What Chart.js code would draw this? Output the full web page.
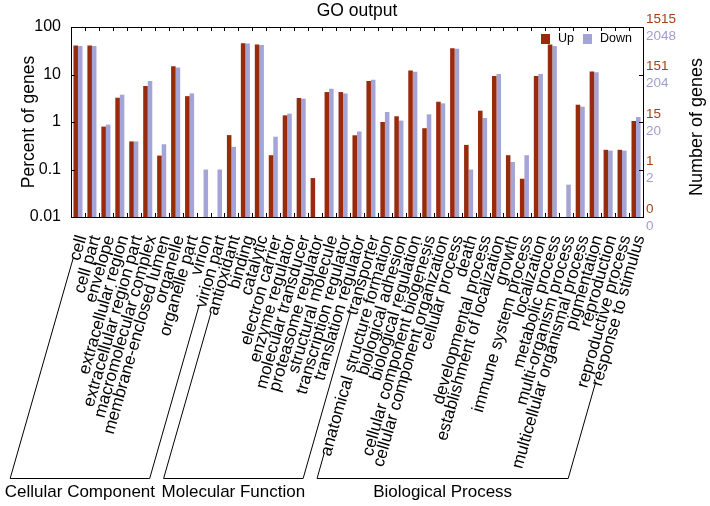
<!DOCTYPE html>
<html>
<head>
<meta charset="utf-8">
<script src="https://cdn.jsdelivr.net/npm/chart.js@4/dist/chart.umd.min.js"></script>
<style>
  html, body { margin: 0; padding: 0; background: #fff; }
  #wrap { width: 710px; height: 506px; }
</style>
</head>
<body>
<div id="wrap"><canvas id="goChart" width="710" height="506"></canvas></div>
<script>
const categories = [
    "cell", "cell part", "envelope", "extracellular region", "extracellular region part",
    "macromolecular complex", "membrane-enclosed lumen", "organelle", "organelle part",
    "virion", "virion part",
    "antioxidant", "binding", "catalytic", "electron carrier", "enzyme regulator",
    "molecular transducer", "proteasome regulator", "structural molecule",
    "transcription regulator", "translation regulator", "transporter",
    "anatomical structure formation", "biological adhesion", "biological regulation",
    "cellular component biogenesis", "cellular component organization", "cellular process",
    "death", "developmental process", "establishment of localization", "growth",
    "immune system process", "localization", "metabolic process", "multi-organism process",
    "multicellular organismal process", "pigmentation", "reproduction",
    "reproductive process", "response to stimulus"
];

// percent of genes (null = no genes)
const upPercent = [
    40.8, 40.8, 0.80, 3.24, 0.39, 5.7, 0.196, 15.0, 3.5, null, null,
    0.53, 45.7, 43, 0.2, 1.38, 3.2, 0.066, 4.27, 4.27, 0.525, 7.3,
    1.0, 1.32, 12.2, 0.74, 2.67, 35.9, 0.33, 1.73, 9.25, 0.2, 0.064, 9.25, 42.9, null,
    2.31, 11.6, 0.26, 0.26, 1.05
];
const downPercent = [
    40, 40, 0.88, 3.75, 0.39, 7.3, 0.34, 14, 4.0, 0.1, 0.1,
    0.3, 45, 42, 0.49, 1.5, 3.1, null, 5.0, 4.0, 0.63, 7.8,
    1.62, 1.07, 11.4, 1.45, 2.47, 35, 0.1, 1.21, 10.2, 0.144, 0.2, 10.2, 40, 0.048,
    2.1, 11.2, 0.25, 0.25, 1.27
];

const percentTicks = [100, 10, 1, 0.1, 0.01];
const upCountTicks = ["1515", "151", "15", "1", "0"];
const downCountTicks = ["2048", "204", "20", "2", "0"];

const groupNames = ["Cellular Component", "Molecular Function", "Biological Process"];
const groupFirst = [0, 11, 22];
const groupLast = [10, 21, 40];

const upColor = "#992b0d";
const downColor = "#a4a4d6";
const upText = "#a3401b";
const downText = "#9e9ed0";
const FONT = "'Liberation Sans', Arial, sans-serif";
const LABEL_ROT = 74;
const LABEL_SHIFT = 4;

function line(ctx, x1, y1, x2, y2) {
    ctx.beginPath();
    ctx.moveTo(x1, y1);
    ctx.lineTo(x2, y2);
    ctx.stroke();
}

const decorPlugin = {
    id: "decor",
    afterDraw(chart) {
        const { ctx, chartArea: a, scales: { x, y } } = chart;
        ctx.save();
        ctx.strokeStyle = "#000";
        ctx.lineWidth = 1;

        // frame with inward ticks
        ctx.strokeRect(Math.round(a.left) + 0.5, Math.round(a.top) + 0.5,
            Math.round(a.right - a.left), Math.round(a.bottom - a.top));
        for (let i = 1; i < categories.length; i++) {
            const px = Math.round((x.getPixelForTick(i - 1) + x.getPixelForTick(i)) / 2) + 0.5;
            line(ctx, px, a.top, px, a.top + 4);
            line(ctx, px, a.bottom, px, a.bottom - 4);
        }
        percentTicks.forEach(v => {
            const py = Math.round(y.getPixelForValue(v)) + 0.5;
            line(ctx, a.left, py, a.left + 4, py);
            line(ctx, a.right, py, a.right - 4, py);
        });

        // title
        ctx.fillStyle = "#000";
        ctx.font = "17.5px " + FONT;
        ctx.textAlign = "center";
        ctx.textBaseline = "middle";
        ctx.fillText("GO output", (a.left + a.right) / 2, 11);

        // right axis: gene counts
        ctx.font = "13.5px " + FONT;
        ctx.textAlign = "left";
        percentTicks.forEach((v, i) => {
            const py = y.getPixelForValue(v);
            ctx.fillStyle = upText;
            ctx.fillText(upCountTicks[i], a.right + 3, py - 8);
            ctx.fillStyle = downText;
            ctx.fillText(downCountTicks[i], a.right + 3, py + 9);
        });
        ctx.save();
        ctx.fillStyle = "#000";
        ctx.font = "18px " + FONT;
        ctx.textAlign = "center";
        ctx.translate(697, (a.top + a.bottom) / 2 + 5);
        ctx.rotate(-Math.PI / 2);
        ctx.fillText("Number of genes", 0, 0);
        ctx.restore();

        // legend
        const ds = chart.data.datasets;
        ctx.font = "12.5px " + FONT;
        ctx.textAlign = "left";
        let lx = a.right - 102;
        ds.forEach(d => {
            ctx.fillStyle = d.backgroundColor;
            ctx.fillRect(lx, a.top + 7, 9, 10);
            ctx.fillStyle = "#000";
            ctx.fillText(d.label, lx + 17, a.top + 12);
            lx += 17 + ctx.measureText(d.label).width + 9;
        });

        // group brackets following the label direction
        const rot = LABEL_ROT * Math.PI / 180;
        const dx = -Math.cos(rot), dy = Math.sin(rot);
        const labelTop = x.top + 10.5;
        const baseY = 478;
        ctx.strokeStyle = "#000";
        ctx.font = "17px " + FONT;
        const edge = (i) => {
            const w = ctx.measureText(categories[i]).width + 6;
            const sx = x.getPixelForTick(i) + LABEL_SHIFT + dx * w;
            const sy = labelTop + dy * w;
            const ex = sx + (baseY - sy) * dx / dy;
            return [sx, sy, ex];
        };
        groupNames.forEach((name, g) => {
            const L = edge(groupFirst[g]);
            const R = edge(groupLast[g]);
            ctx.beginPath();
            ctx.moveTo(L[0], L[1]);
            ctx.lineTo(L[2], baseY + 0.5);
            ctx.lineTo(R[2], baseY + 0.5);
            ctx.lineTo(R[0], R[1]);
            ctx.stroke();
            ctx.fillStyle = "#000";
            ctx.textAlign = "center";
            ctx.fillText(name, (L[2] + R[2]) / 2, 492);
        });
        ctx.restore();
    }
};

new Chart(document.getElementById("goChart"), {
    type: "bar",
    data: {
        labels: categories,
        datasets: [
            { label: "Up", data: upPercent, backgroundColor: upColor },
            { label: "Down", data: downPercent, backgroundColor: downColor }
        ]
    },
    options: {
        responsive: false,
        animation: false,
        layout: { padding: { top: 27, right: 67, bottom: 0, left: 0 } },
        datasets: { bar: { categoryPercentage: 0.65, barPercentage: 1.0 } },
        plugins: {
            legend: { display: false },
            title: { display: false },
            tooltip: { enabled: false }
        },
        scales: {
            x: {
                grid: { display: false },
                border: { display: false },
                ticks: {
                    autoSkip: false,
                    minRotation: LABEL_ROT,
                    maxRotation: LABEL_ROT,
                    labelOffset: LABEL_SHIFT,
                    padding: 8,
                    color: "#000",
                    font: { family: FONT, size: 17 }
                },
                afterFit: s => { s.height = 289; }
            },
            y: {
                type: "logarithmic",
                min: 0.01,
                max: 100,
                grid: { display: false },
                border: { display: false },
                afterBuildTicks: s => { s.ticks = percentTicks.map(v => ({ value: v })); },
                ticks: {
                    padding: 2,
                    color: "#000",
                    font: { family: FONT, size: 16 },
                    callback: v => String(v)
                },
                title: {
                    display: true,
                    text: "Percent of genes",
                    color: "#000",
                    font: { family: FONT, size: 17.5 },
                    padding: { top: 19, bottom: 0 }
                },
                afterFit: s => { s.width = 71; }
            }
        }
    },
    plugins: [decorPlugin]
});
</script>
</body>
</html>
